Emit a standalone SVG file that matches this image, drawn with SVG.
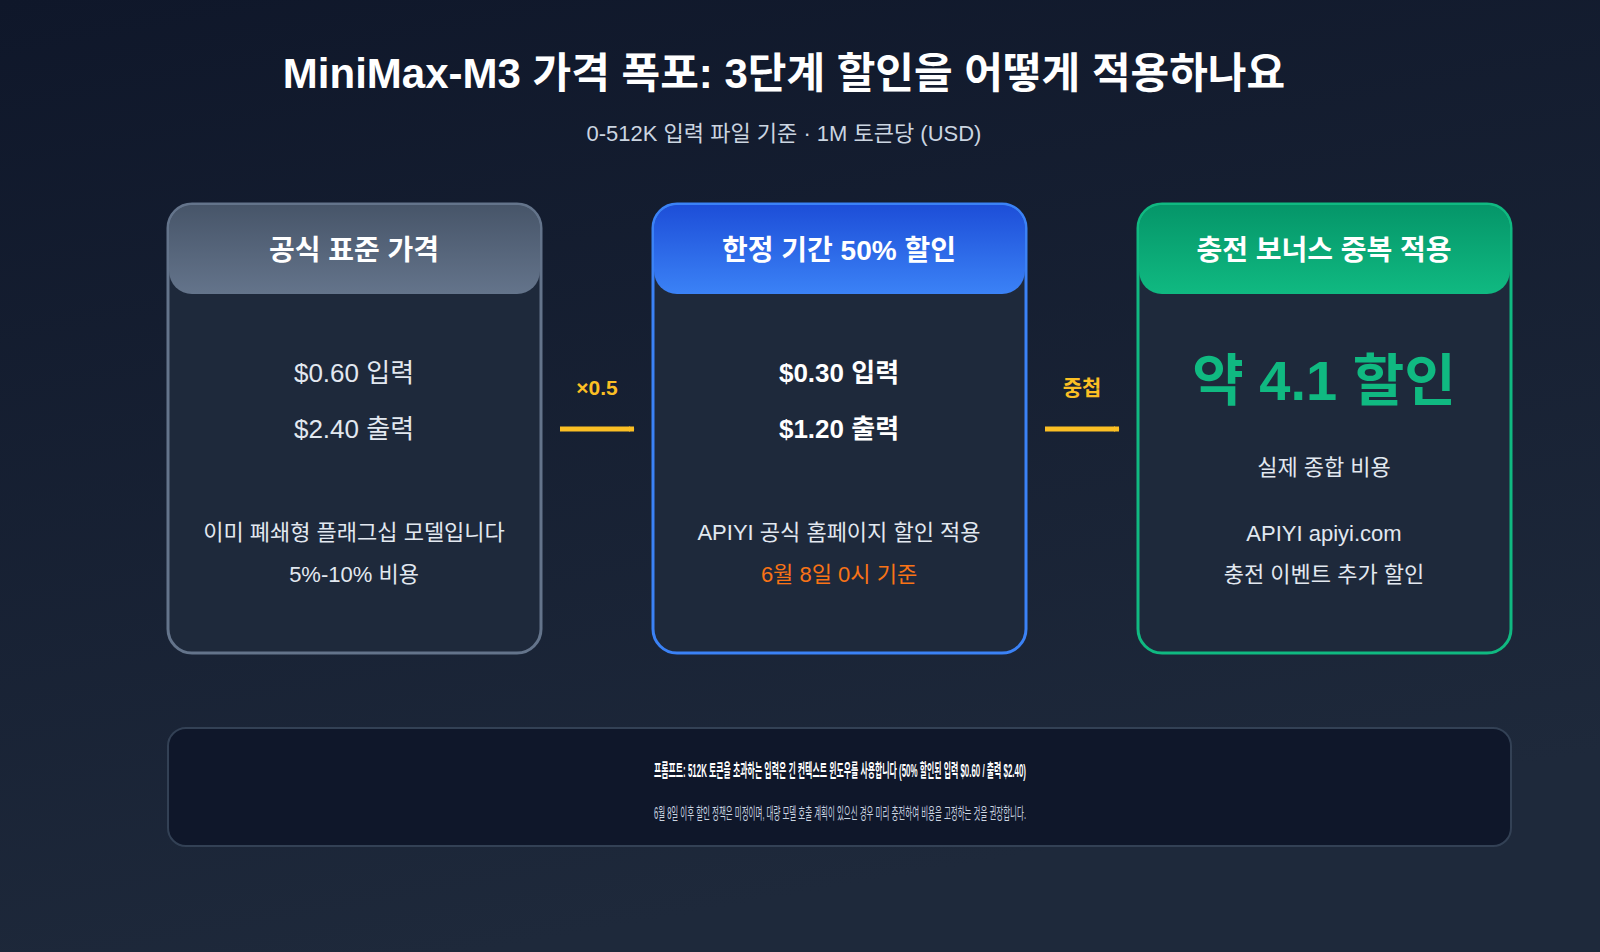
<svg xmlns="http://www.w3.org/2000/svg" width="1600" height="952" viewBox="0 0 1600 952">
<defs>
<linearGradient id="bg" x1="0" y1="0" x2="0.3" y2="1"><stop offset="0" stop-color="#0f172a"/><stop offset="1" stop-color="#1e293b"/></linearGradient>
<linearGradient id="g1" x1="0" y1="0" x2="0" y2="1"><stop offset="0" stop-color="#475569"/><stop offset="1" stop-color="#64748b"/></linearGradient>
<linearGradient id="g2" x1="0" y1="0" x2="0" y2="1"><stop offset="0" stop-color="#1d4ed8"/><stop offset="1" stop-color="#3b82f6"/></linearGradient>
<linearGradient id="g3" x1="0" y1="0" x2="0" y2="1"><stop offset="0" stop-color="#059669"/><stop offset="1" stop-color="#10b981"/></linearGradient>
<marker id="ar" viewBox="0 0 10 10" refX="9" refY="5" markerWidth="6" markerHeight="6" orient="auto" markerUnits="userSpaceOnUse"><path d="M0,0 L10,5 L0,10 z" fill="#fbbf24"/></marker>
</defs>
<style>
text{font-family:"Liberation Sans","Noto Sans CJK KR",sans-serif;text-anchor:middle;fill:#e2e8f0}
.h{font-size:28px;font-weight:bold;fill:#fff}
.p{font-size:26px}
.b{font-size:26px;font-weight:bold;fill:#fff}
.s{font-size:22px}
.card{fill:#1e293b;stroke-width:3}
.lbl{font-size:21px;font-weight:bold;fill:#fbbf24}
</style>
<rect width="1600" height="952" fill="url(#bg)"/>
<text x="784" y="88" style="font-size:42px;font-weight:bold;fill:#fff">MiniMax-M3 가격 폭포: 3단계 할인을 어떻게 적용하나요</text>
<text x="784" y="141" style="font-size:22px;fill:#cbd5e1">0-512K 입력 파일 기준 · 1M 토큰당 (USD)</text>
<g id="card1">
<rect class="card" x="168" y="204" width="373" height="449" rx="24" stroke="#64748b"/>
<rect x="169" y="205" width="371" height="89" rx="23" fill="url(#g1)"/>
<text class="h" x="354" y="260">공식 표준 가격</text>
<text class="p" x="354" y="382">$0.60 입력</text>
<text class="p" x="354" y="438">$2.40 출력</text>
<text class="s" x="354" y="540">이미 폐쇄형 플래그십 모델입니다</text>
<text class="s" x="354" y="582">5%-10% 비용</text>
</g>
<g id="card2">
<rect class="card" x="653" y="204" width="373" height="449" rx="24" stroke="#3b82f6"/>
<rect x="654" y="205" width="371" height="89" rx="23" fill="url(#g2)"/>
<text class="h" x="839" y="260">한정 기간 50% 할인</text>
<text class="b" x="839" y="382">$0.30 입력</text>
<text class="b" x="839" y="438">$1.20 출력</text>
<text class="s" x="839" y="540">APIYI 공식 홈페이지 할인 적용</text>
<text class="s" x="839" y="582" style="fill:#f97316">6월 8일 0시 기준</text>
</g>
<g id="card3">
<rect class="card" x="1138" y="204" width="373" height="449" rx="24" stroke="#10b981"/>
<rect x="1139" y="205" width="371" height="89" rx="23" fill="url(#g3)"/>
<text class="h" x="1324" y="260">충전 보너스 중복 적용</text>
<text x="1324" y="400" style="font-size:56px;font-weight:bold;fill:#10b981">약 4.1 할인</text>
<text class="s" x="1324" y="475">실제 종합 비용</text>
<text class="s" x="1324" y="541">APIYI apiyi.com</text>
<text class="s" x="1324" y="582">충전 이벤트 추가 할인</text>
</g>
<g id="connectors">
<line x1="560" y1="429" x2="634" y2="429" stroke="#fbbf24" stroke-width="5" marker-end="url(#ar)"/>
<text class="lbl" x="597" y="395">×0.5</text>
<line x1="1045" y1="429" x2="1119" y2="429" stroke="#fbbf24" stroke-width="5" marker-end="url(#ar)"/>
<text class="lbl" x="1082" y="395">중첩</text>
</g>
<g id="note">
<rect x="168" y="728" width="1343" height="118" rx="18" fill="#0f172a" stroke="#334155" stroke-width="2"/>
<text x="840" y="777" textLength="372" lengthAdjust="spacingAndGlyphs" style="font-size:18px;font-weight:bold;fill:#fff">프롬프트: 512K 토큰을 초과하는 입력은 긴 컨텍스트 윈도우를 사용합니다 (50% 할인된 입력 $0.60 / 출력 $2.40)</text>
<text x="840" y="819" textLength="372" lengthAdjust="spacingAndGlyphs" style="font-size:16px;fill:#cbd5e1">6월 8일 이후 할인 정책은 미정이며, 대량 모델 호출 계획이 있으신 경우 미리 충전하여 비용을 고정하는 것을 권장합니다.</text>
</g>
</svg>
